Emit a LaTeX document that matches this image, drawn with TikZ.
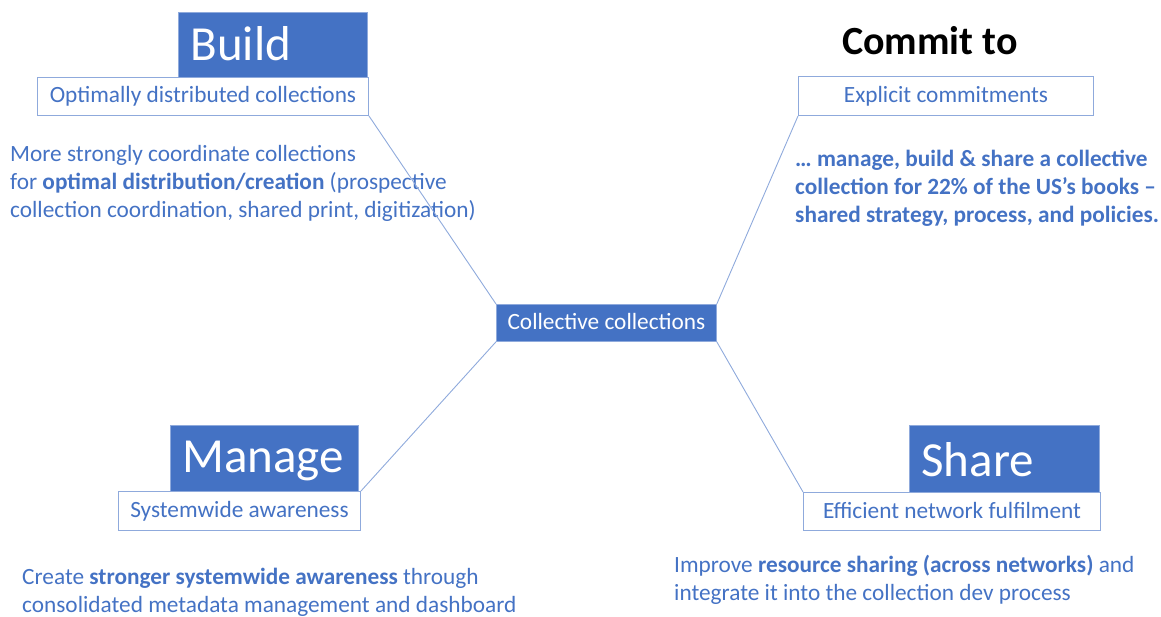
\documentclass[tikz,border=0pt]{standalone}
\usepackage{fontspec}
\setmainfont{Carlito}
\definecolor{mblue}{HTML}{4472C4}
\definecolor{lblue}{HTML}{8FAADC}
\tikzset{
  bigbox/.style={fill=mblue, draw=lblue, line width=0.8pt, text=white, anchor=north west, inner xsep=12pt, inner ysep=0pt, align=left, font=\fontsize{49}{55}\selectfont},
  subbox/.style={draw=lblue, line width=1pt, fill=white, text=mblue, anchor=north west, inner sep=0pt, align=center, text height=18pt, text depth=5pt, font=\fontsize{23.3}{28}\selectfont},
  desc/.style={text=mblue, anchor=base west, inner sep=0pt, align=left, font=\fontsize{23.3}{28}\selectfont},
  link/.style={draw=lblue, line width=0.9pt}
}
\begin{document}
\begin{tikzpicture}[x=1pt,y=-1pt]
\useasboundingbox (0,0) rectangle (1161,617);
% Build
\node[bigbox, text width=165pt, text height=48pt, text depth=17pt] (build) at (178,12) {Build};
\node[subbox, minimum width=331pt, minimum height=38pt] (opt) at (37,77) {Optimally distributed collections};
\node[desc] (builddesc) at (10,218) {More strongly coordinate collections\\for \textbf{optimal distribution/creation} (prospective\\collection coordination, shared print, digitization)};
% Commit
\node[anchor=base, inner sep=0pt, font=\fontsize{40}{46}\selectfont\bfseries] (commit) at (930,55) {Commit to};
\node[subbox, minimum width=295pt, minimum height=39pt] (expl) at (798,76) {Explicit commitments};
\node[desc, font=\fontsize{23.3}{28}\selectfont\bfseries] (commitdesc) at (795,223) {… manage, build \& share a collective\\collection for 22\% of the US’s books –\\shared strategy, process, and policies.};
% Center
\node[fill=mblue, draw=lblue, line width=0.8pt, text=white, anchor=north west, inner sep=0pt, minimum width=220pt, minimum height=37pt, text height=18pt, text depth=5pt, font=\fontsize{23.3}{28}\selectfont] (center) at (496,304) {Collective collections};
% Manage
\node[bigbox, text width=164pt, text height=47pt, text depth=19pt] (manage) at (170,425) {Manage};
\node[subbox, minimum width=242pt, minimum height=39pt] (sys) at (118,491) {Systemwide awareness};
\node[desc] (managedesc) at (22,612) {Create \textbf{stronger systemwide awareness} through\\consolidated metadata management and dashboard};
% Share
\node[bigbox, text width=166pt, text height=51pt, text depth=16pt] (share) at (909,425) {Share};
\node[subbox, minimum width=297pt, minimum height=38pt] (eff) at (803,492) {Efficient network fulfilment};
\node[desc] (sharedesc) at (674,600) {Improve \textbf{resource sharing (across networks)} and\\integrate it into the collection dev process};
% Links
\draw[link] (opt.south east) -- (center.north west);
\draw[link] (expl.south west) -- (center.north east);
\draw[link] (sys.north east) -- (center.south west);
\draw[link] (eff.north west) -- (center.south east);
\end{tikzpicture}
\end{document}
